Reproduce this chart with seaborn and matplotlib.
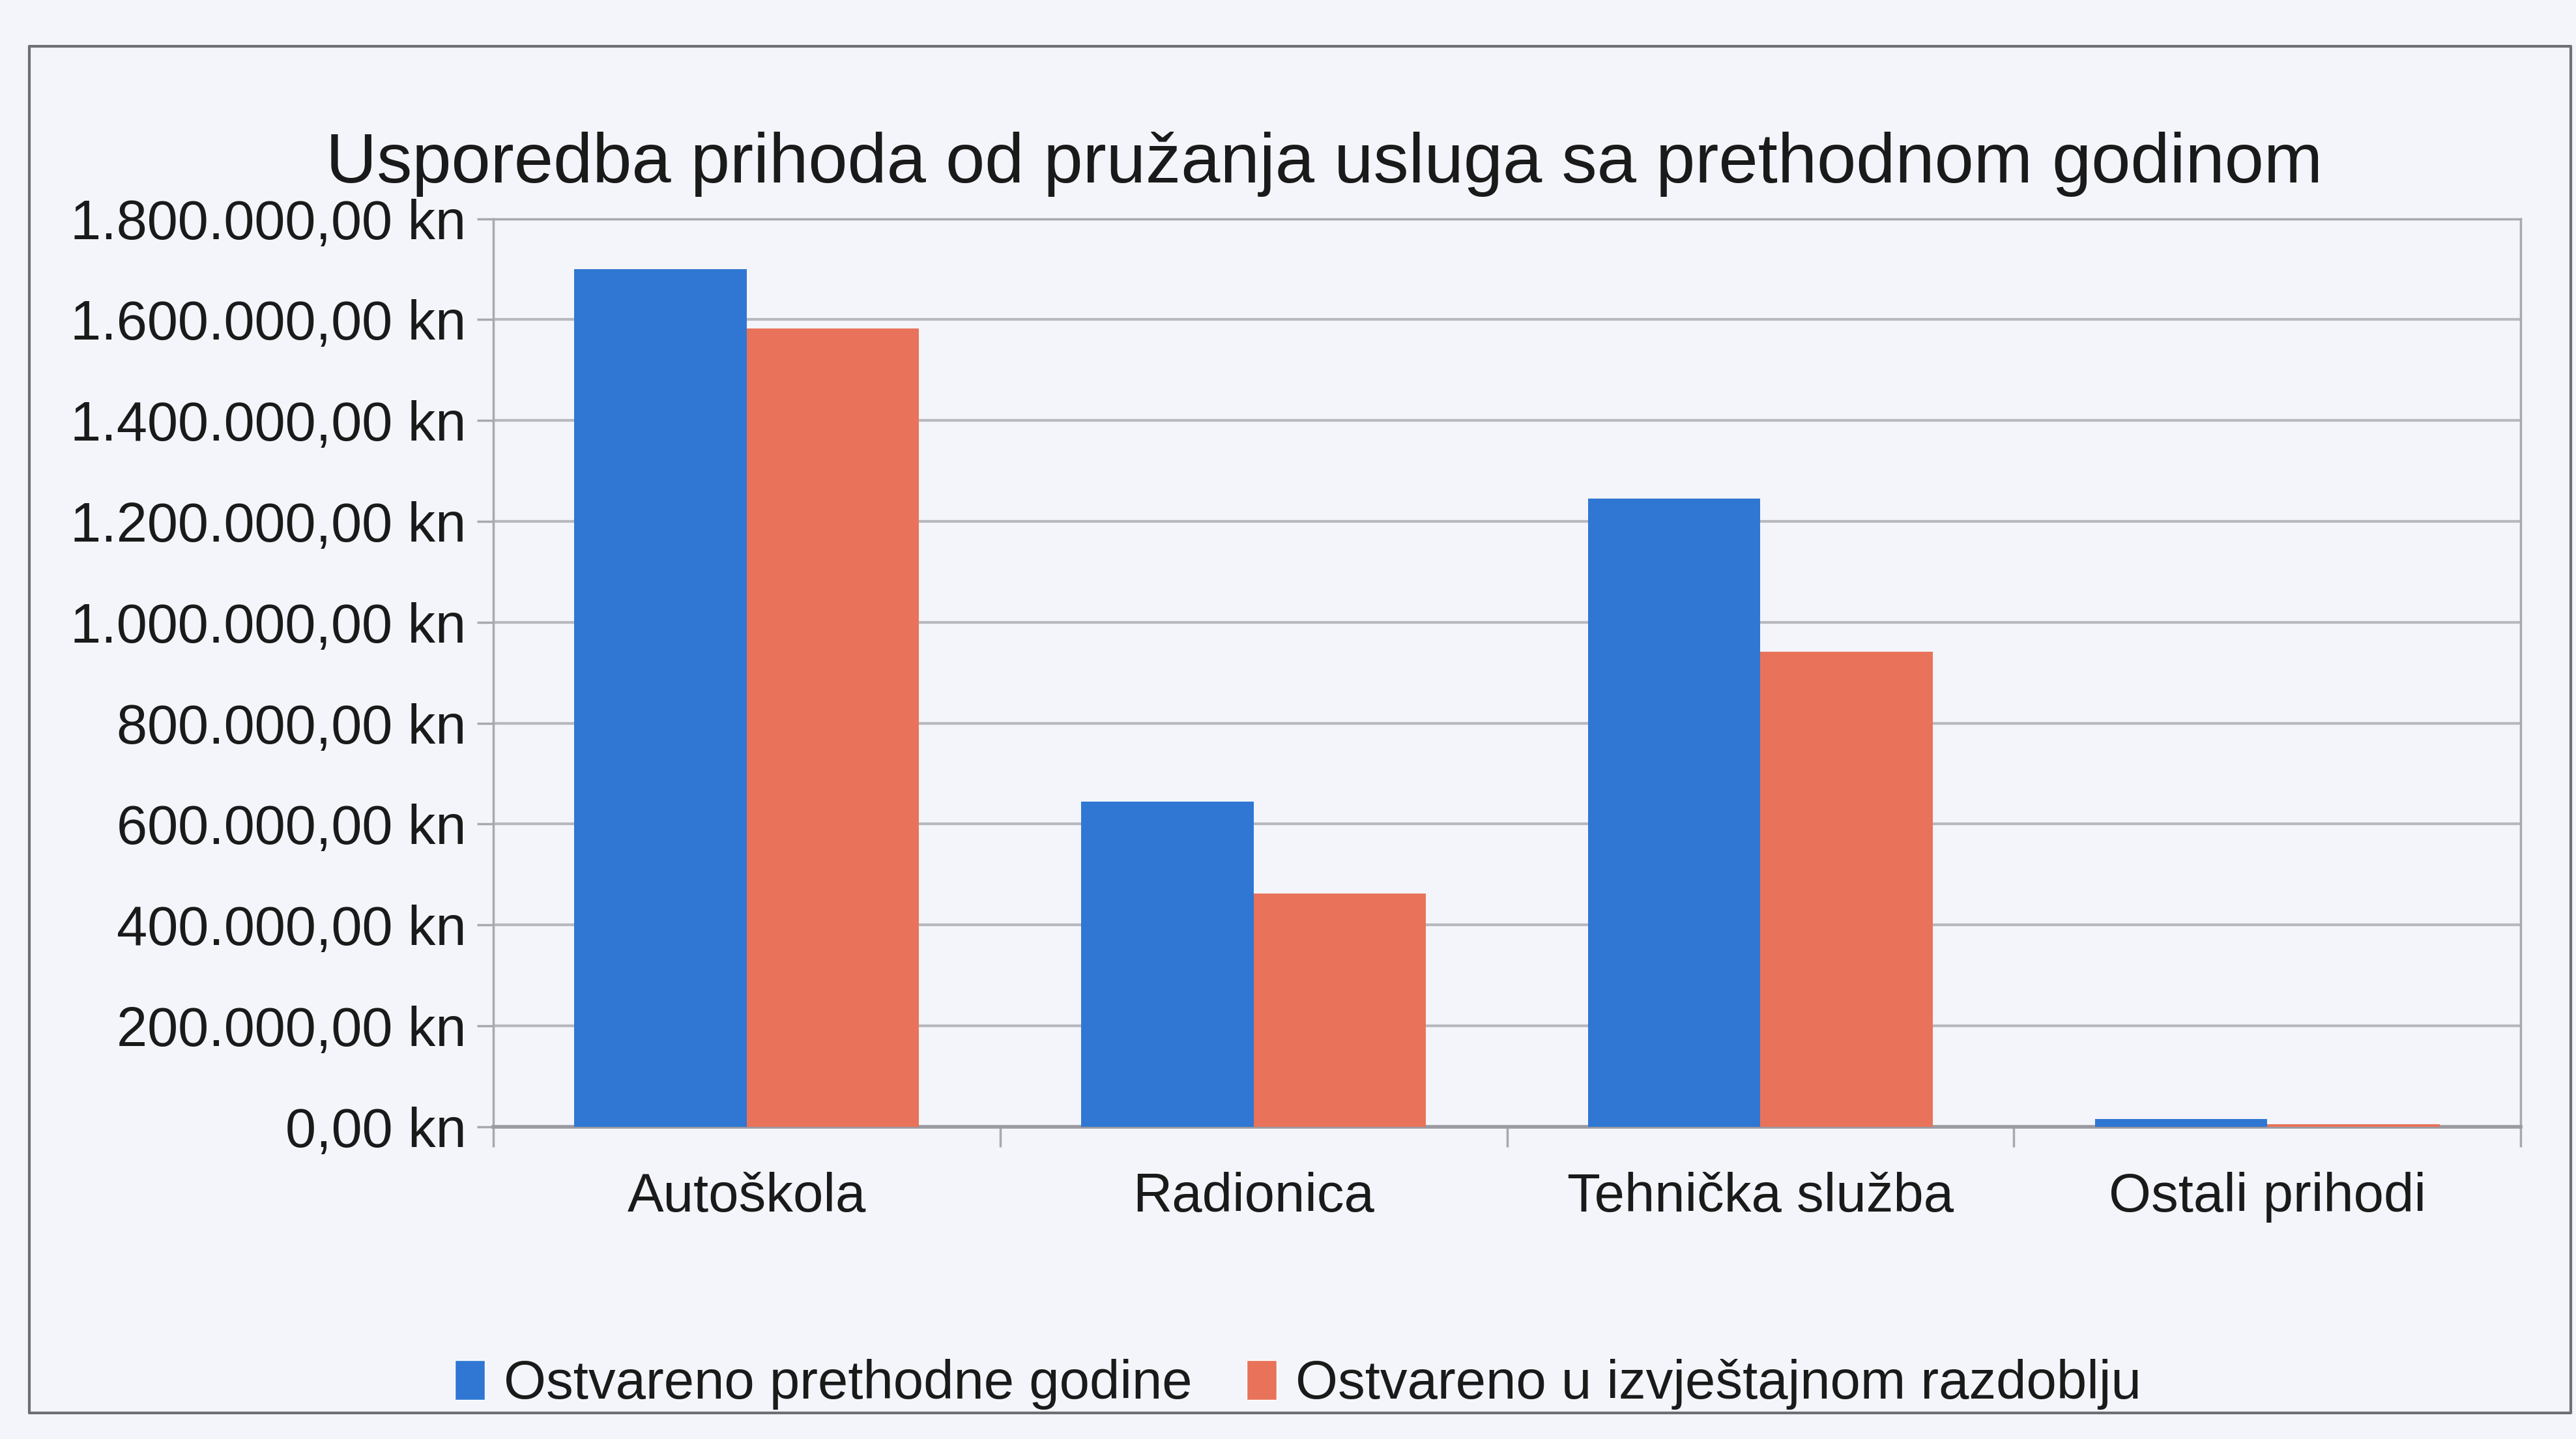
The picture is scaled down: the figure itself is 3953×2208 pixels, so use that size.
import matplotlib
matplotlib.use("Agg")
import matplotlib.pyplot as plt
import seaborn as sns
import pandas as pd
from matplotlib.ticker import FuncFormatter, FixedLocator, MultipleLocator
from matplotlib.patches import Patch
from matplotlib.lines import Line2D

categories = ["Autoškola", "Radionica", "Tehnička služba", "Ostali prihodi"]
series_names = ["Ostvareno prethodne godine", "Ostvareno u izvještajnom razdoblju"]
prev_year = [1700000, 645000, 1245000, 15000]
current = [1583000, 462000, 942000, 5000]
title = "Usporedba prihoda od pružanja usluga sa prethodnom godinom"
colors = ["#2f77d3", "#e8735a"]

df = pd.DataFrame({
    "kategorija": categories * 2,
    "serija": [series_names[0]] * 4 + [series_names[1]] * 4,
    "iznos": prev_year + current,
})

sns.set_theme(style="white")
plt.rcParams["font.family"] = ["Liberation Sans", "DejaVu Sans"]

bg = "#f3f5fa"
fig = plt.figure(figsize=(39.53, 22.08), dpi=100, facecolor=bg)
ax = fig.add_axes([0.1915, 0.217, 0.787, 0.631])
ax.set_facecolor(bg)

sns.barplot(data=df, x="kategorija", y="iznos", hue="serija",
            palette=colors, width=0.68, saturation=1, ax=ax,
            legend=False, zorder=3, linewidth=0)

ax.set_ylim(0, 1800000)
ax.set_xlim(-0.5, 3.5)
ax.yaxis.set_major_locator(MultipleLocator(200000))

def fmt(v, pos):
    s = f"{v:,.2f}".replace(",", "X").replace(".", ",").replace("X", ".")
    return s + " kn"

ax.yaxis.set_major_formatter(FuncFormatter(fmt))
ax.grid(axis="y", color="#b8b8bd", linewidth=3, zorder=0)
ax.set_xlabel("")
ax.set_ylabel("")

for side in ["left", "right", "top", "bottom"]:
    ax.spines[side].set_visible(True)
    ax.spines[side].set_color("#a8a8ae")
    ax.spines[side].set_linewidth(2.5)
ax.spines["bottom"].set_color("#9a9aa0")
ax.spines["bottom"].set_linewidth(4)

ax.tick_params(axis="y", which="major", left=True, length=18, width=2.5,
               color="#a8a8ae", labelsize=61, pad=12, labelcolor="#1a1a1a")
ax.tick_params(axis="x", which="major", bottom=False, length=0,
               labelsize=60, pad=50, labelcolor="#1a1a1a")
ax.xaxis.set_minor_locator(FixedLocator([-0.5, 0.5, 1.5, 2.5, 3.5]))
ax.tick_params(axis="x", which="minor", bottom=True, length=22, width=2.5,
               color="#a8a8ae")

fig.text(0.514, 0.886, title, ha="center", va="center", fontsize=78,
         color="#1a1a1a")

handles = [Patch(facecolor=colors[0]), Patch(facecolor=colors[1])]
fig.legend(handles, series_names, loc="center", bbox_to_anchor=(0.504, 0.038),
           ncol=2, frameon=False, fontsize=60, handlelength=0.55,
           handleheight=0.75, handletextpad=0.35, columnspacing=1.0,
           labelcolor="#1a1a1a")

# outer chart border
for xs, ys in [([0.0115, 0.0115], [0.018, 0.968]),
               ([0.0115, 0.998], [0.968, 0.968]),
               ([0.0115, 0.998], [0.018, 0.018]),
               ([0.998, 0.998], [0.018, 0.968])]:
    fig.add_artist(Line2D(xs, ys, transform=fig.transFigure,
                          color="#6e6e74", linewidth=3))

fig.savefig("out.png", dpi=100, facecolor=bg)
